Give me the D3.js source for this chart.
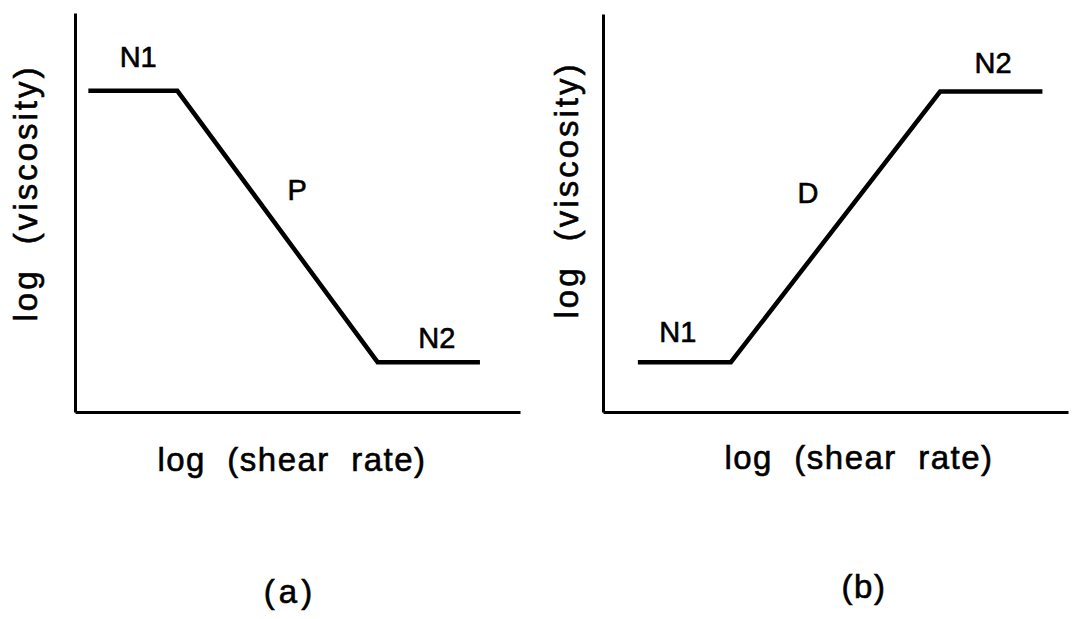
<!DOCTYPE html>
<html>
<head>
<meta charset="utf-8">
<script src="https://cdn.jsdelivr.net/npm/d3@7"></script>
<style>
  body { margin: 0; background: #fff; }
  svg text { font-family: "Liberation Sans", Arial, Helvetica, sans-serif; fill: #000; stroke: #000; stroke-width: 0.6px; white-space: pre; }
  .axis path { stroke: #000; stroke-width: 3; }
  .curve { fill: none; stroke: #000; stroke-width: 4.5; stroke-linejoin: miter; }
</style>
</head>
<body>
<div id="chart"></div>
<script>
// abstract units: both axes run 0..10 in each panel
var panelNames = ["(a)", "(b)"];
var xAxisTitle = "log  (shear  rate)";
var yAxisTitle = "log  (viscosity)";

// panel (a): pseudoplastic, N1 -> P -> N2
var curveA_x = [0.3, 2.3, 6.8, 9.1];
var curveA_y = [8.05, 8.05, 1.25, 1.25];
var labelsA_text = ["N1", "P", "N2"];
var labelsA_x = [1.42, 4.99, 8.13];
var labelsA_y = [8.65, 5.31, 1.6];

// panel (b): dilatant, N1 -> D -> N2
var curveB_x = [0.75, 2.75, 7.25, 9.45];
var curveB_y = [1.25, 1.25, 8.05, 8.05];
var labelsB_text = ["N1", "D", "N2"];
var labelsB_x = [1.61, 4.41, 8.39];
var labelsB_y = [1.75, 5.24, 8.52];

var fullWidth = 1072,
    fullHeight = 619;

var svg = d3.select("#chart")
    .append("svg")
    .attr("width", fullWidth)
    .attr("height", fullHeight);

var panels = [
  { left: 75, right: 520, top: 13, bottom: 412,
    xs: curveA_x, ys: curveA_y,
    lt: labelsA_text, lx: labelsA_x, ly: labelsA_y,
    name: panelNames[0], nameSpacing: "4px",
    yTitleX: 37, yTitleY: 193, xTitleX: 292, xTitleY: 471, nameX: 290, nameY: 603 },
  { left: 603, right: 1068, top: 14, bottom: 412,
    xs: curveB_x, ys: curveB_y,
    lt: labelsB_text, lx: labelsB_x, ly: labelsB_y,
    name: panelNames[1], nameSpacing: "1.5px",
    yTitleX: 578, yTitleY: 190, xTitleX: 859, xTitleY: 469, nameX: 864, nameY: 598 }
];

panels.forEach(function(p) {
  var xScale = d3.scaleLinear().domain([0, 10]).range([p.left, p.right]);
  var yScale = d3.scaleLinear().domain([0, 10]).range([p.bottom, p.top]);

  svg.append("g")
    .attr("class", "axis")
    .attr("transform", "translate(0," + p.bottom + ")")
    .call(d3.axisBottom(xScale).ticks(0).tickSizeOuter(0));

  svg.append("g")
    .attr("class", "axis")
    .attr("transform", "translate(" + p.left + ",0)")
    .call(d3.axisLeft(yScale).ticks(0).tickSizeOuter(0));

  var pts = p.xs.map(function(d, i) { return { x: d, y: p.ys[i] }; });

  var line = d3.line()
    .x(function(d) { return xScale(d.x); })
    .y(function(d) { return yScale(d.y); });

  svg.append("path")
    .datum(pts)
    .attr("class", "curve")
    .attr("d", line);

  p.lt.forEach(function(t, i) {
    svg.append("text")
      .attr("x", xScale(p.lx[i]))
      .attr("y", yScale(p.ly[i]))
      .attr("text-anchor", "middle")
      .style("font-size", "29px")
      .text(t);
  });

  svg.append("text")
    .attr("transform", "translate(" + p.yTitleX + "," + p.yTitleY + ") rotate(-90)")
    .attr("text-anchor", "middle")
    .style("font-size", "33px")
    .style("letter-spacing", "3px")
    .text(yAxisTitle);

  svg.append("text")
    .attr("x", p.xTitleX)
    .attr("y", p.xTitleY)
    .attr("text-anchor", "middle")
    .style("font-size", "33px")
    .style("letter-spacing", "1.5px")
    .text(xAxisTitle);

  svg.append("text")
    .attr("x", p.nameX)
    .attr("y", p.nameY)
    .attr("text-anchor", "middle")
    .style("font-size", "33px")
    .style("letter-spacing", p.nameSpacing)
    .text(p.name);
});
</script>
</body>
</html>
